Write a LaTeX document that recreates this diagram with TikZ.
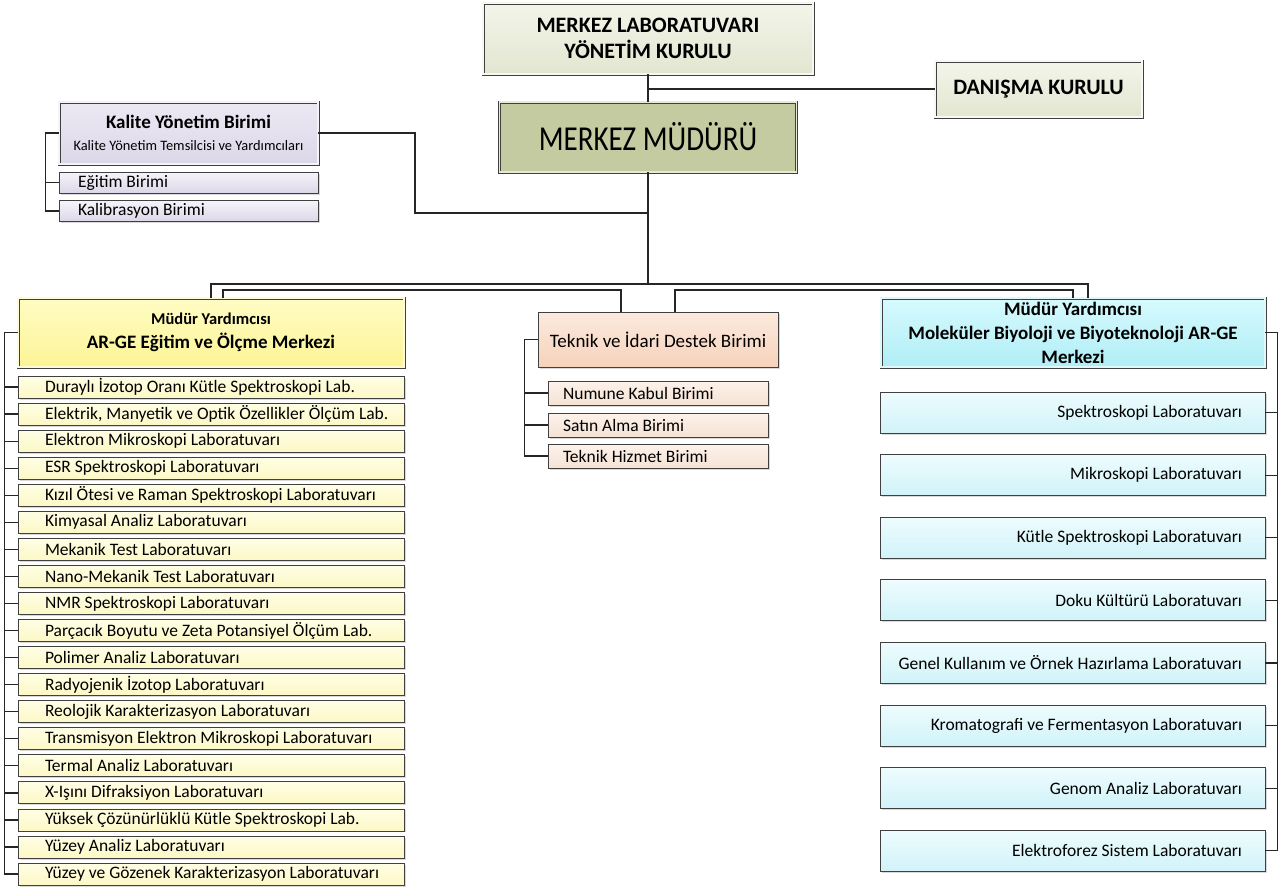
\documentclass[tikz,border=0pt]{standalone}
\usepackage{fontspec}
\setmainfont{Carlito}
\newfontfamily\darfont{Carlito}[FakeStretch=0.83]
\usetikzlibrary{shadows}

\definecolor{kurulT}{RGB}{243,245,234}
\definecolor{kurulB}{RGB}{226,230,208}
\definecolor{mudurfill}{RGB}{197,203,160}
\definecolor{kaliteT}{RGB}{236,233,244}
\definecolor{kaliteB}{RGB}{220,215,232}
\definecolor{sariT}{RGB}{255,252,196}
\definecolor{sariB}{RGB}{252,244,150}
\definecolor{sariAcikT}{RGB}{255,254,228}
\definecolor{sariAcikB}{RGB}{252,248,198}
\definecolor{seftaliT}{RGB}{252,234,222}
\definecolor{seftaliB}{RGB}{246,210,186}
\definecolor{seftaliAcikT}{RGB}{253,242,235}
\definecolor{seftaliAcikB}{RGB}{245,226,212}
\definecolor{maviT}{RGB}{214,250,254}
\definecolor{maviB}{RGB}{176,238,246}
\definecolor{maviAcikT}{RGB}{238,252,254}
\definecolor{maviAcikB}{RGB}{208,243,249}

\tikzset{
	box/.style={rectangle, draw=black!75, line width=0.9pt, inner sep=0pt,
		drop shadow={shadow xshift=1.5pt, shadow yshift=-1.5pt, opacity=0.3}},
	cift/.style={double=#1, double distance=1.4pt, line width=0.8pt},
	kurul/.style={box, cift=white!70!kurulB, top color=kurulT, bottom color=kurulB,
		align=center, font=\bfseries\fontsize{22}{26}\selectfont},
	mudurbox/.style={box, cift=white!60!mudurfill, fill=mudurfill,
		font=\darfont\fontsize{35}{38}\selectfont},
	kalitebox/.style={box, cift=white!70!kaliteB, top color=kaliteT, bottom color=kaliteB,
		align=center, font=\fontsize{14.4}{22}\selectfont},
	kalitealt/.style={box, top color=kaliteT!50!white, bottom color=kaliteB,
		text width=259, minimum height=21, align=flush left, font=\fontsize{17.5}{21}\selectfont,
		execute at begin node={\hspace*{19pt}}},
	solbaslik/.style={box, cift=white!60!sariB, top color=sariT, bottom color=sariB,
		align=center, font=\bfseries\fontsize{19}{24}\selectfont},
	solkutu/.style={box, top color=sariAcikT, bottom color=sariAcikB,
		text width=386, minimum height=22, align=flush left, font=\fontsize{17.5}{21}\selectfont,
		execute at begin node={\hspace*{27pt}}},
	teknikbox/.style={box, top color=seftaliT, bottom color=seftaliB,
		font=\fontsize{19}{23}\selectfont},
	teknikalt/.style={box, top color=seftaliAcikT, bottom color=seftaliAcikB,
		text width=220, minimum height=24, align=flush left, font=\fontsize{17.5}{21}\selectfont,
		execute at begin node={\hspace*{15pt}}},
	sagbaslik/.style={box, cift=white!60!maviB, top color=maviT, bottom color=maviB,
		align=center, font=\bfseries\fontsize{19}{24}\selectfont},
	sagkutu/.style={box, top color=maviAcikT, bottom color=maviAcikB,
		text width=385, minimum height=41, align=flush right, font=\fontsize{17.5}{21}\selectfont,
		execute at end node={\hspace*{23pt}}},
	hat/.style={draw=black!85, line width=1.8pt},
	ince/.style={draw=black!85, line width=1.2pt}
}

\begin{document}
\begin{tikzpicture}[x=1pt, y=-1pt]
	\useasboundingbox (0,0) rectangle (1284,886);
	
	% yonetim
	\node[kurul, minimum width=330, minimum height=71] (yonetim) at (648,38.5) {MERKEZ LABORATUVARI\\YÖNETİM KURULU};
	\node[kurul, minimum width=207, minimum height=56] (danisma) at (1038.5,89) {DANIŞMA KURULU};
	\node[mudurbox, minimum width=297, minimum height=70] (mudur) at (648,137) {MERKEZ MÜDÜRÜ};
	
	% kalite
	\node[kalitebox, minimum width=259, minimum height=62] (kalite) at (188.5,133) {{\bfseries\fontsize{19}{22}\selectfont Kalite Yönetim Birimi}\\Kalite Yönetim Temsilcisi ve Yardımcıları};
	\node[kalitealt] (egitim) at (188.5,182.5) {Eğitim Birimi};
	\node[kalitealt] (kalibrasyon) at (188.5,211) {Kalibrasyon Birimi};
	
	% ar-ge egitim ve olcme
	\node[solbaslik, minimum width=386, minimum height=69] (argeL) at (211,332.5) {{\fontsize{16.5}{24}\selectfont Müdür Yardımcısı}\\AR-GE Eğitim ve Ölçme Merkezi};
	\foreach \txt [count=\i from 0] in {Duraylı İzotop Oranı Kütle Spektroskopi Lab.,
		{Elektrik, Manyetik ve Optik Özellikler Ölçüm Lab.},
		Elektron Mikroskopi Laboratuvarı, ESR Spektroskopi Laboratuvarı,
		Kızıl Ötesi ve Raman Spektroskopi Laboratuvarı, Kimyasal Analiz Laboratuvarı,
		Mekanik Test Laboratuvarı, Nano-Mekanik Test Laboratuvarı,
		NMR Spektroskopi Laboratuvarı, Parçacık Boyutu ve Zeta Potansiyel Ölçüm Lab.,
		Polimer Analiz Laboratuvarı, Radyojenik İzotop Laboratuvarı,
		Reolojik Karakterizasyon Laboratuvarı, Transmisyon Elektron Mikroskopi Laboratuvarı,
		Termal Analiz Laboratuvarı, X-Işını Difraksiyon Laboratuvarı,
		Yüksek Çözünürlüklü Kütle Spektroskopi Lab., Yüzey Analiz Laboratuvarı,
		Yüzey ve Gözenek Karakterizasyon Laboratuvarı}
		\node[solkutu] (l\i) at (211,{387+27.06*\i}) {\txt};
	
	% teknik ve idari destek
	\node[teknikbox, minimum width=240, minimum height=55] (teknik) at (658,339.5) {Teknik ve İdari Destek Birimi};
	\node[teknikalt] (numune) at (658,393) {Numune Kabul Birimi};
	\node[teknikalt] (satinalma) at (658,425) {Satın Alma Birimi};
	\node[teknikalt] (hizmet) at (658,456) {Teknik Hizmet Birimi};
	
	% molekuler biyoloji
	\node[sagbaslik, minimum width=384, minimum height=69] (argeR) at (1073,332.5) {Müdür Yardımcısı\\Moleküler Biyoloji ve Biyoteknoloji AR-GE\\Merkezi};
	\foreach \txt [count=\i from 0] in {Spektroskopi Laboratuvarı, Mikroskopi Laboratuvarı,
		Kütle Spektroskopi Laboratuvarı, Doku Kültürü Laboratuvarı,
		Genel Kullanım ve Örnek Hazırlama Laboratuvarı,
		Kromatografi ve Fermentasyon Laboratuvarı,
		Genom Analiz Laboratuvarı, Elektroforez Sistem Laboratuvarı}
		\node[sagkutu] (r\i) at (1072.5,{412.5+62.6*\i}) {\txt};
	
	% baglantilar
	\coordinate (kirik) at (415,213);
	\coordinate (busA) at (648,284);
	\coordinate (busB) at (648,290);
	\coordinate (tSol) at ([xshift=-37]teknik.north);
	\coordinate (tSag) at ([xshift=17]teknik.north);
	\coordinate (rUst) at ([xshift=15]argeR.north);
	
	\draw[hat] (yonetim) -- (mudur);
	\draw[hat] (danisma.west) -- (danisma.west -| yonetim.south);
	\draw[hat] (kalite.east) -| (kirik) -- (kirik -| mudur.south);
	\draw[hat] (mudur.south) -- (busA);
	\draw[hat] (argeL.north) |- (busA) -| (rUst);
	\draw[hat] ([xshift=12]argeL.north) |- (tSol |- busB) -- (tSol);
	\draw[hat] (tSag) |- (argeR.north |- busB) -- (argeR.north);
	
	\draw[ince] (kalite.west) -- ++(-13,0) |- (kalibrasyon.west);
	\draw[ince] (egitim.west) -- ++(-13,0);
	\draw[ince] (argeL.west) -- ++(-13,0) |- (l18.west);
	\foreach \i in {0,...,17}
		\draw[ince] (l\i.west) -- ++(-13,0);
	\draw[ince] (teknik.west) -- ++(-13,0) |- (hizmet.west);
	\draw[ince] (numune.west) -- ++(-23,0);
	\draw[ince] (satinalma.west) -- ++(-23,0);
	\draw[ince] (argeR.east) -- ++(12,0) |- (r7.east);
	\foreach \i in {0,...,6}
		\draw[ince] (r\i.east) -- ++(12,0);
	 
\end{tikzpicture}
\end{document}
